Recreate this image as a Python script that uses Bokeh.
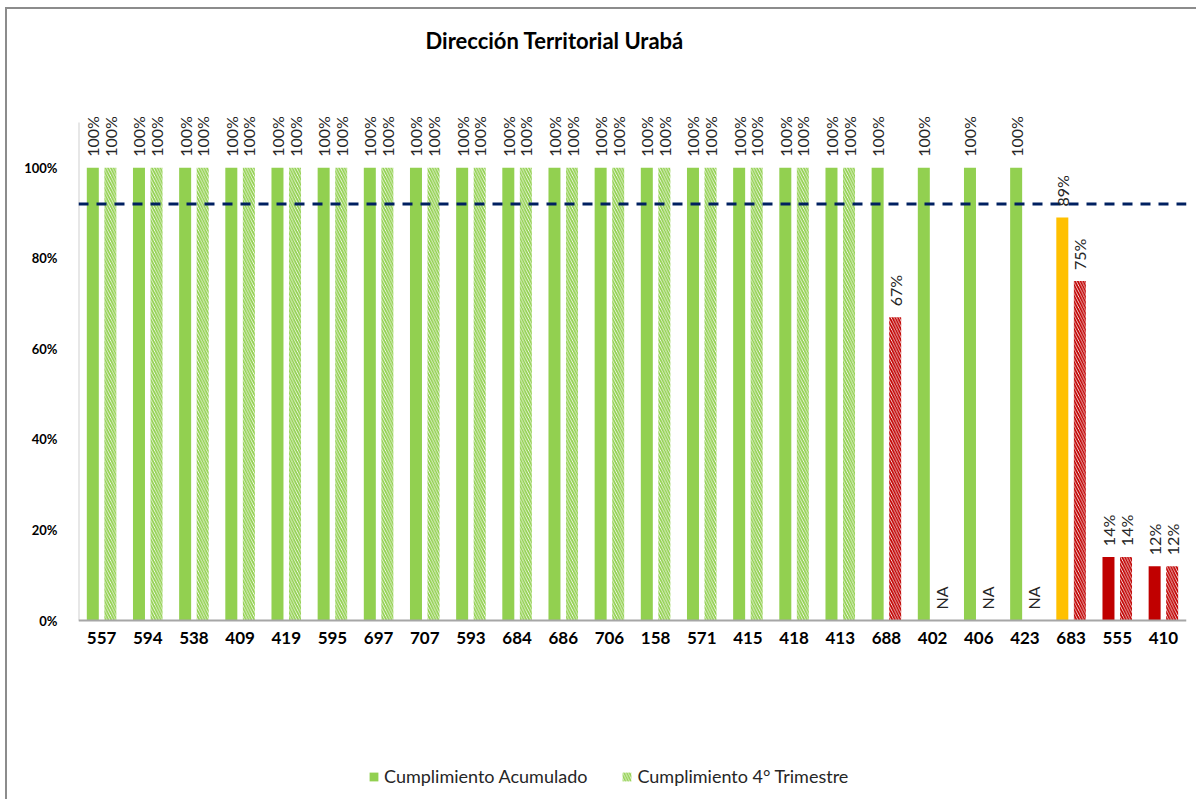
from bokeh.plotting import figure
from bokeh.models import (ColumnDataSource, FactorRange, Range1d, Span, Legend, LegendItem,
                          FixedTicker, NumeralTickFormatter, LabelSet, Label)
from bokeh.transform import dodge
from bokeh.core.properties import value
from bokeh.embed import file_html
from bokeh.resources import INLINE

# ---- data ----
categories = ["557", "594", "538", "409", "419", "595", "697", "707", "593", "684", "686", "706",
              "158", "571", "415", "418", "413", "688", "402", "406", "423", "683", "555", "410"]
acumulado = [1.0, 1.0, 1.0, 1.0, 1.0, 1.0, 1.0, 1.0, 1.0, 1.0, 1.0, 1.0,
             1.0, 1.0, 1.0, 1.0, 1.0, 1.0, 1.0, 1.0, 1.0, 0.89, 0.14, 0.12]
trimestre = [1.0, 1.0, 1.0, 1.0, 1.0, 1.0, 1.0, 1.0, 1.0, 1.0, 1.0, 1.0,
             1.0, 1.0, 1.0, 1.0, 1.0, 0.67, None, None, None, 0.75, 0.14, 0.12]
meta = 0.92
y_axis_top = 1.10
y_ticks = [0, 0.2, 0.4, 0.6, 0.8, 1.0]
title_text = "Dirección Territorial Urabá"

GREEN = "#92D050"
ORANGE = "#FFC000"
RED = "#C00000"
acc_colors = [GREEN] * 21 + [ORANGE, RED, RED]
tri_colors = [GREEN] * 17 + [RED, GREEN, GREEN, GREEN, RED, RED, RED]

FONT = "Lato"
W, H = 1196, 799
LEFT, RIGHT = 78, 10
ZERO_PX = 620          # pixel row of the 0 % baseline (from top)
PX_PER_UNIT = 452.7    # pixels per 100 %


def fmt(v):
    return "NA" if v is None else f"{round(v * 100)}%"


tri_vals = [float("nan") if v is None else v for v in trimestre]
source = ColumnDataSource(dict(
    cat=categories,
    zero=[0.0] * len(categories),
    acc=acumulado,
    tri=tri_vals,
    tri_lab_y=[0.0 if v is None else v for v in trimestre],
    acc_color=acc_colors,
    tri_color=tri_colors,
    acc_text=[fmt(v) for v in acumulado],
    tri_text=[fmt(v) for v in trimestre],
))

y_start = -(H - ZERO_PX) / PX_PER_UNIT
y_end = ZERO_PX / PX_PER_UNIT
p = figure(width=W, height=H, x_range=FactorRange(*categories), y_range=Range1d(y_start, y_end),
           output_backend="svg", toolbar_location=None, x_axis_location=None,
           min_border_left=LEFT, min_border_right=RIGHT, min_border_top=0, min_border_bottom=0)
p.styles = {"box-shadow": "inset 5px 0 0 0 white, inset 0 7px 0 0 white, "
                          "inset 7px 0 0 0 #8c8c8c, inset 0 9px 0 0 #8c8c8c"}
p.x_range.range_padding = 0
p.x_range.group_padding = 0
p.outline_line_color = None
p.grid.grid_line_color = None
p.background_fill_color = None
p.border_fill_color = None

# y axis line from 0 to the axis top
axis_src = ColumnDataSource(dict(x=[categories[0], categories[0]], y=[0, y_axis_top]))
p.line(x=dodge("x", -0.5, range=p.x_range), y="y", source=axis_src, line_color="#d0d0d0",
       line_width=2)
# x axis line at 0
p.add_layout(Span(location=0, dimension="width", line_color="#a6a6a6", line_width=2))

r_acc = p.vbar(x=dodge("cat", -0.19, range=p.x_range), top="acc", width=0.26, source=source,
               fill_color="acc_color", line_color=None)
r_tri = p.vbar(x=dodge("cat", 0.19, range=p.x_range), top="tri", width=0.26, source=source,
               fill_color="white", line_color=None, hatch_pattern="\\", hatch_color="tri_color",
               hatch_scale=5.5, hatch_weight=1.8)

p.add_layout(Span(location=meta, dimension="width", line_color="#002060", line_width=3,
                  line_dash="10 8"))

lab_acc = LabelSet(x=dodge("cat", -0.19, range=p.x_range), y="acc", text="acc_text", source=source,
                   angle=1.5708, y_offset=11, text_align="left", text_baseline="middle",
                   text_font=value(FONT), text_font_size="16px", text_color="#262626")
lab_tri = LabelSet(x=dodge("cat", 0.19, range=p.x_range), y="tri_lab_y", text="tri_text", source=source,
                   angle=1.5708, y_offset=11, text_align="left", text_baseline="middle",
                   text_font=value(FONT), text_font_size="16px", text_color="#262626")
p.add_layout(lab_acc)
p.add_layout(lab_tri)

# category labels under the baseline
lab_cat = LabelSet(x="cat", y="zero", text="cat", source=source, y_offset=-11,
                   text_align="center", text_baseline="top", text_font=value(FONT),
                   text_font_size="17px", text_font_style="bold", text_color="black")
p.add_layout(lab_cat)

# y axis
p.yaxis.ticker = FixedTicker(ticks=y_ticks)
p.yaxis.formatter = NumeralTickFormatter(format="0%")
p.yaxis.major_tick_line_color = None
p.yaxis.minor_tick_line_color = None
p.yaxis.axis_line_color = None
p.yaxis.major_label_standoff = 15
p.yaxis.major_label_text_font = FONT
p.yaxis.major_label_text_font_size = "13px"
p.yaxis.major_label_text_font_style = "bold"
p.yaxis.major_label_text_color = "black"

# title
p.add_layout(Label(x=347, y=H - 40, x_units="screen", y_units="screen", text=title_text,
                   text_font=FONT, text_font_size="22px", text_font_style="bold",
                   text_color="black", text_align="left", text_baseline="middle"))

legend = Legend(items=[LegendItem(label="Cumplimiento Acumulado", renderers=[r_acc]),
                       LegendItem(label="Cumplimiento 4° Trimestre", renderers=[r_tri])],
                orientation="horizontal", location=(290, 12),
                label_text_font=FONT, label_text_font_size="18px", label_text_color="#262626",
                glyph_width=11, glyph_height=11, label_standoff=5, spacing=34,
                border_line_color=None, background_fill_alpha=0)
p.add_layout(legend, "center")

open("out.html", "w").write(file_html(p, INLINE))
